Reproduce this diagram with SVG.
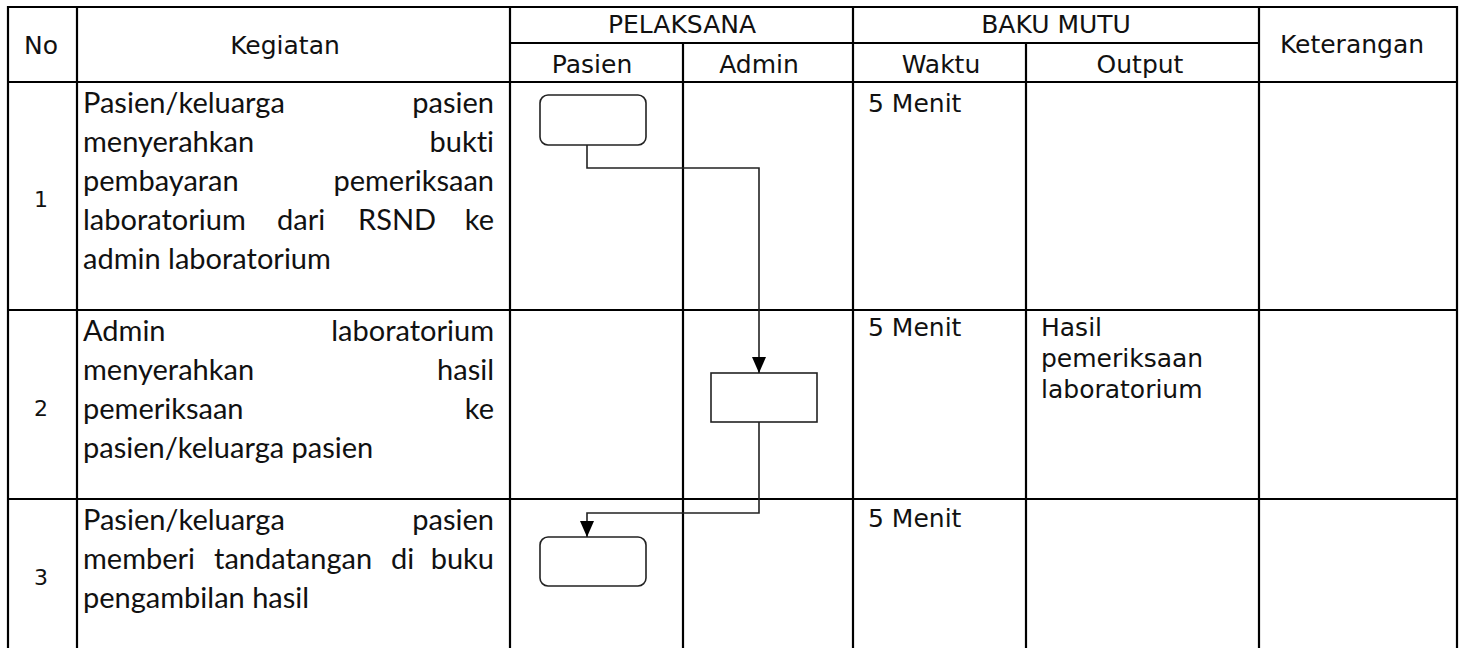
<svg xmlns="http://www.w3.org/2000/svg" width="1475" height="648" viewBox="0 0 1475 648">
<style>
.grid{stroke:#000;stroke-width:2.2;fill:none}
.hd{font-family:"DejaVu Sans",Tahoma,Verdana,sans-serif;font-size:25px;fill:#111;text-anchor:middle}
.num{font-family:"DejaVu Sans",Tahoma,sans-serif;font-size:22px;fill:#111;text-anchor:middle}
.bd{font-family:Lato,"Noto Sans",sans-serif;font-size:29px;fill:#111;font-variant-ligatures:none}
.r{text-anchor:end}
.m{font-family:"DejaVu Sans",Tahoma,Verdana,sans-serif;font-size:25px;fill:#111}
.shape{fill:#fff;stroke:#222;stroke-width:1.6}
.conn{fill:none;stroke:#222;stroke-width:1.6}
</style>
<defs>
<marker id="arr" markerUnits="userSpaceOnUse" viewBox="0 0 16 14" refX="16" refY="7" markerWidth="16" markerHeight="14" orient="auto">
<path d="M0,0 L16,7 L0,14 z" fill="#000"/>
</marker>
</defs>
<rect width="1475" height="648" fill="#fff"/>
<g id="table">
<line class="grid" x1="8" y1="7" x2="1457" y2="7"/>
<line class="grid" x1="510" y1="43" x2="1259" y2="43"/>
<line class="grid" x1="8" y1="82" x2="1457" y2="82"/>
<line class="grid" x1="8" y1="310" x2="1457" y2="310"/>
<line class="grid" x1="8" y1="499" x2="1457" y2="499"/>
<line class="grid" x1="8" y1="6" x2="8" y2="650"/>
<line class="grid" x1="77" y1="6" x2="77" y2="650"/>
<line class="grid" x1="510" y1="6" x2="510" y2="650"/>
<line class="grid" x1="683" y1="43" x2="683" y2="650"/>
<line class="grid" x1="853" y1="6" x2="853" y2="650"/>
<line class="grid" x1="1026" y1="43" x2="1026" y2="650"/>
<line class="grid" x1="1259" y1="6" x2="1259" y2="650"/>
<line class="grid" x1="1457" y1="6" x2="1457" y2="650"/>
</g>
<g id="header">
<text class="hd" x="41" y="54">No</text>
<text class="hd" x="285" y="54">Kegiatan</text>
<text class="hd" x="682" y="33">PELAKSANA</text>
<text class="hd" x="1056" y="33">BAKU MUTU</text>
<text class="hd" x="592" y="73">Pasien</text>
<text class="hd" x="759" y="73">Admin</text>
<text class="hd" x="941" y="73">Waktu</text>
<text class="hd" x="1140" y="73">Output</text>
<text class="hd" x="1352" y="53">Keterangan</text>
</g>
<g id="row1">
<text class="num" x="41" y="207">1</text>
<text class="bd" x="83" y="113">Pasien/keluarga</text>
<text class="bd r" x="494" y="113">pasien</text>
<text class="bd" x="83" y="152">menyerahkan</text>
<text class="bd r" x="494" y="152">bukti</text>
<text class="bd" x="83" y="191">pembayaran</text>
<text class="bd r" x="494" y="191">pemeriksaan</text>
<text class="bd" x="83" y="230">laboratorium</text>
<text class="bd" x="277" y="230">dari</text>
<text class="bd" x="358" y="230">RSND</text>
<text class="bd r" x="494" y="230">ke</text>
<text class="bd" x="83" y="269">admin laboratorium</text>
<text class="m" x="868" y="112">5 Menit</text>
</g>
<g id="row2">
<text class="num" x="41" y="416">2</text>
<text class="bd" x="83" y="341">Admin</text>
<text class="bd r" x="494" y="341">laboratorium</text>
<text class="bd" x="83" y="380">menyerahkan</text>
<text class="bd r" x="494" y="380">hasil</text>
<text class="bd" x="83" y="419">pemeriksaan</text>
<text class="bd r" x="494" y="419">ke</text>
<text class="bd" x="83" y="458">pasien/keluarga pasien</text>
<text class="m" x="868" y="336">5 Menit</text>
<text class="m" x="1041" y="336">Hasil</text>
<text class="m" x="1041" y="367">pemeriksaan</text>
<text class="m" x="1041" y="398">laboratorium</text>
</g>
<g id="row3">
<text class="num" x="41" y="585">3</text>
<text class="bd" x="83" y="530">Pasien/keluarga</text>
<text class="bd r" x="494" y="530">pasien</text>
<text class="bd" x="83" y="569">memberi</text>
<text class="bd" x="214" y="569">tandatangan</text>
<text class="bd" x="391" y="569">di</text>
<text class="bd r" x="494" y="569">buku</text>
<text class="bd" x="83" y="608">pengambilan hasil</text>
<text class="m" x="868" y="527">5 Menit</text>
</g>
<g id="node-start">
<rect class="shape" x="540" y="95" width="106" height="50" rx="8"/>
</g>
<g id="node-admin">
<rect class="shape" x="711" y="373" width="106" height="49"/>
</g>
<g id="node-end">
<rect class="shape" x="540" y="537" width="106" height="49" rx="8"/>
</g>
<g id="connectors">
<path class="conn" d="M587,145 V168 H759 V373" marker-end="url(#arr)"/>
<path class="conn" d="M759,422 V513 H587 V537" marker-end="url(#arr)"/>
</g>
</svg>
